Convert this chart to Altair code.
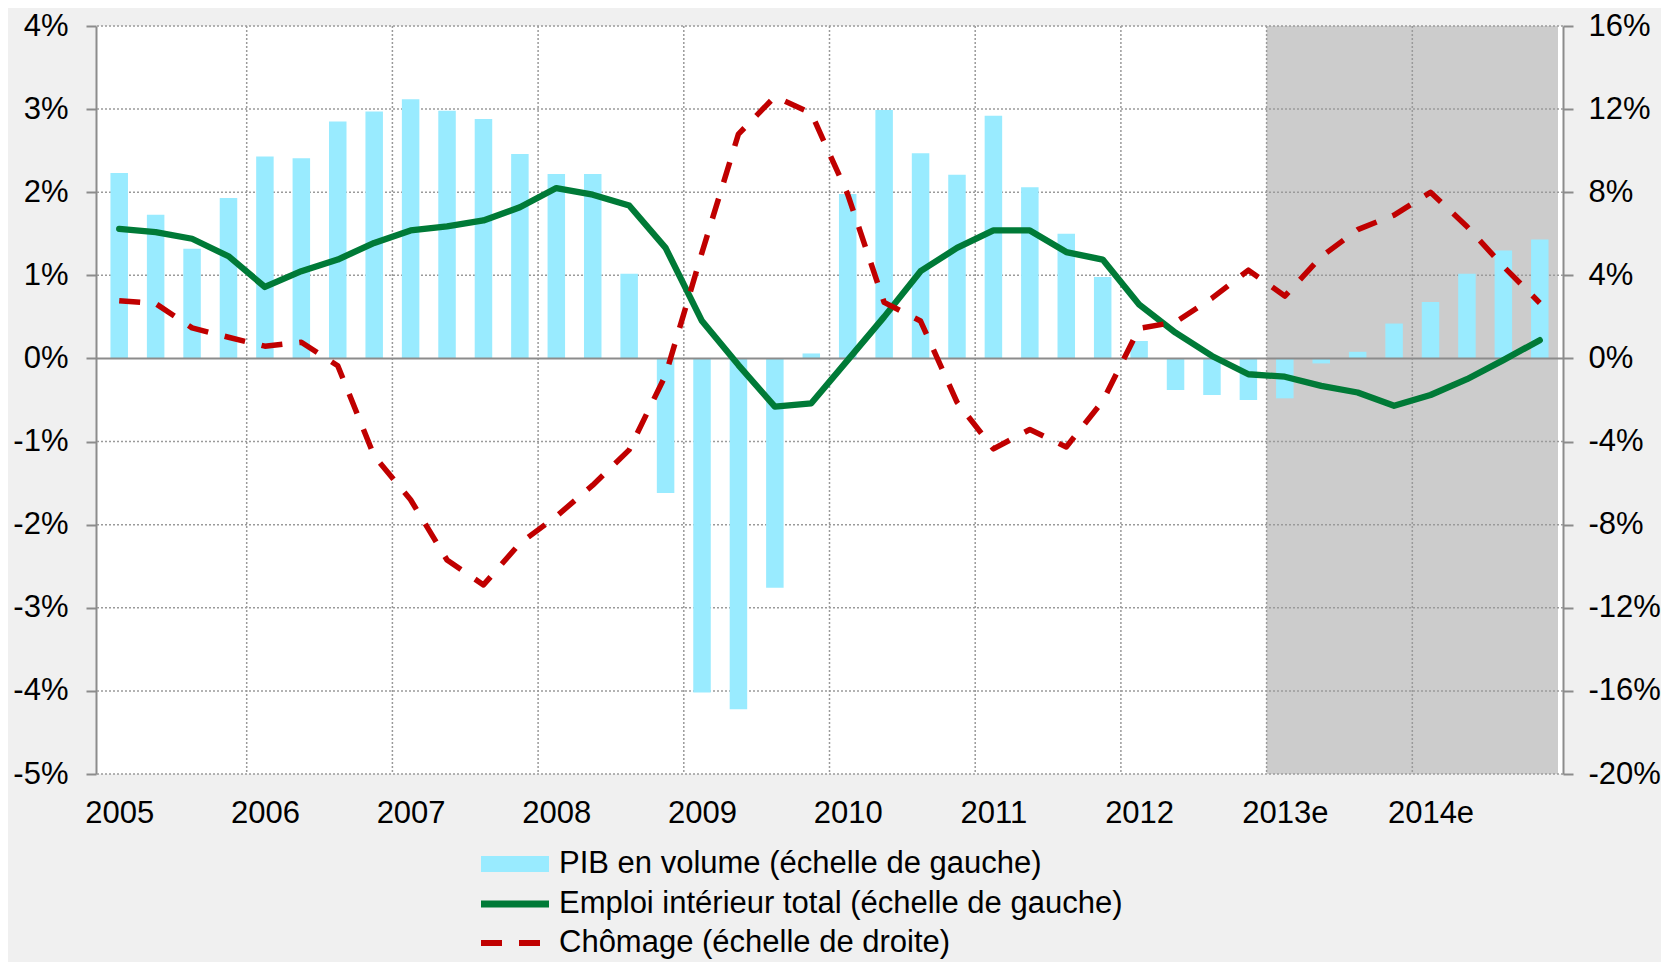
import json
import altair as alt
import pandas as pd

# ---------------- data ----------------
years = ["2005", "2006", "2007", "2008", "2009", "2010", "2011", "2012", "2013e", "2014e"]

# PIB en volume, glissement annuel (%), trimestriel
pib = [2.23, 1.73, 1.32, 1.93,
       2.43, 2.41, 2.85, 2.97,
       3.12, 2.98, 2.88, 2.46,
       2.22, 2.22, 1.02, -1.62,
       -4.02, -4.22, -2.76, 0.06,
       1.98, 2.99, 2.47, 2.21,
       2.92, 2.06, 1.50, 0.98,
       0.21, -0.38, -0.44, -0.50,
       -0.48, -0.06, 0.08, 0.42,
       0.68, 1.02, 1.30, 1.43]

# Emploi intérieur total (%)
emp = [1.56, 1.52, 1.44, 1.23,
       0.86, 1.05, 1.19, 1.39,
       1.54, 1.59, 1.66, 1.82,
       2.05, 1.97, 1.84, 1.33,
       0.45, -0.08, -0.58, -0.54,
       -0.02, 0.50, 1.05, 1.33,
       1.54, 1.54, 1.28, 1.19,
       0.65, 0.31, 0.03, -0.19,
       -0.22, -0.33, -0.41, -0.57,
       -0.44, -0.25, -0.02, 0.22]

# Chômage (%), échelle de droite
cho = [2.78, 2.64, 1.47, 1.02,
       0.59, 0.78, -0.35, -4.7,
       -6.8, -9.7, -10.9, -8.9,
       -7.6, -6.1, -4.4, -0.8,
       5.1, 10.8, 12.6, 11.8,
       7.9, 2.7, 1.8, -2.1,
       -4.35, -3.42, -4.26, -2.06,
       1.45, 1.75, 2.9, 4.25,
       3.0, 4.9, 6.2, 6.9,
       8.0, 6.35, 4.43, 2.67]

left_ticks = [-5, -4, -3, -2, -1, 0, 1, 2, 3, 4]
right_ticks = [-20, -16, -12, -8, -4, 0, 4, 8, 12, 16]

series = ["PIB en volume (échelle de gauche)",
          "Emploi intérieur total (échelle de gauche)",
          "Chômage (échelle de droite)"]

# ---------------- styles ----------------
FONT = "Liberation Sans"
CYAN = "#99EBFF"
GREEN = "#007A37"
RED = "#C00000"
GRID = "#9A9A9A"
AXIS = "#8C8C8C"
SHADE = "#CCCCCC"
BG = "#F0F0F0"
FS = 31
DASH = [21, 17]

W, H = 1467, 748

nq = 4 * len(years)
df = pd.DataFrame({"q": list(range(nq)), "pib": pib, "emp": emp, "cho": cho})
fc_start = 4 * next(i for i, y in enumerate(years) if y.endswith("e"))
shade_df = pd.DataFrame({"start": [fc_start], "end": [nq]})
vgrid_df = pd.DataFrame({"b": [4 * i for i in range(1, len(years))]})
hgrid_df = pd.DataFrame({"v": [v for v in left_ticks if v != 0]})
zero_df = pd.DataFrame({"v": [0]})

xscale = alt.Scale(domain=[0, nq], nice=False, zero=False)
xaxis = alt.Axis(values=[4 * i + 0.5 for i in range(len(years))],
                 labelExpr=f"{json.dumps(years)}[floor(datum.value/4)]",
                 grid=False, ticks=False, tickSize=0, domain=False,
                 labelPadding=24, labelFontSize=FS, labelFont=FONT,
                 labelColor="black", title=None, labelFlush=False,
                 labelOverlap=False)

ylscale = alt.Scale(domain=[left_ticks[0], left_ticks[-1]], nice=False, zero=False)
ylaxis = alt.Axis(values=left_ticks, labelExpr="datum.value + '%'", grid=False,
                  orient="left", tickSize=10, tickWidth=2, tickColor=AXIS,
                  domainColor=AXIS, domainWidth=2, labelPadding=18,
                  labelFontSize=FS, labelFont=FONT, labelColor="black",
                  title=None, labelFlush=False, labelOverlap=False)

yrscale = alt.Scale(domain=[right_ticks[0], right_ticks[-1]], nice=False, zero=False)
yraxis = alt.Axis(values=right_ticks, labelExpr="datum.value + '%'", grid=False,
                  orient="right", tickSize=10, tickWidth=2, tickColor=AXIS,
                  domainColor=AXIS, domainWidth=2, labelPadding=15,
                  labelFontSize=FS, labelFont=FONT, labelColor="black",
                  title=None, labelFlush=False, labelOverlap=False)


def leg(lx, ly, lo, **kw):
    return alt.Legend(orient="none", legendX=lx, legendY=ly,
                      title=None, labelFont=FONT, labelFontSize=FS,
                      labelColor="black", labelLimit=2000, labelOffset=lo,
                      symbolSize=4624, padding=0, symbolOpacity=1, **kw)


X = lambda f: alt.X(f, scale=xscale, axis=xaxis)
YL = lambda f: alt.Y(f, scale=ylscale, axis=ylaxis)

base = alt.Chart(df).transform_calculate(t="datum.q + 0.5")

shade = alt.Chart(shade_df).mark_rect(color=SHADE).encode(
    x=X("start:Q"), x2="end:Q")

vgrid = alt.Chart(vgrid_df).mark_rule(color=GRID, strokeDash=[2, 2], strokeWidth=1.5).encode(
    x=X("b:Q"))

hgrid = alt.Chart(hgrid_df).mark_rule(color=GRID, strokeDash=[2, 2], strokeWidth=1.5).encode(
    y=YL("v:Q"))

bars = base.transform_calculate(s=json.dumps(series[0])).mark_bar(size=17.5).encode(
    x=X("t:Q"), y=YL("pib:Q"),
    fill=alt.Fill("s:N", scale=alt.Scale(domain=[series[0]], range=[CYAN]),
                  legend=leg(385, 804, 10, symbolType="M-1,-0.235H1V0.235H-1Z",
                             symbolStrokeWidth=0)))

zero = alt.Chart(zero_df).mark_rule(color=AXIS, strokeWidth=2).encode(y=YL("v:Q"))

green = base.transform_calculate(s=json.dumps(series[1])).mark_line(
    strokeWidth=6.3, strokeJoin="round", strokeCap="round").encode(
    x=X("t:Q"), y=YL("emp:Q"),
    stroke=alt.Stroke("s:N", scale=alt.Scale(domain=[series[1]], range=[GREEN]),
                      legend=leg(381.5, 840.5, 6.5, symbolType="stroke",
                                 symbolStrokeWidth=7)))

red = base.transform_calculate(s=json.dumps(series[2])).mark_line(
    color=RED, strokeWidth=5.5, strokeJoin="round").encode(
    x=X("t:Q"), y=alt.Y("cho:Q", scale=yrscale, axis=yraxis),
    strokeDash=alt.StrokeDash("s:N",
                              scale=alt.Scale(domain=[series[2]], range=[DASH]),
                              legend=leg(382, 880, 7, symbolType="stroke",
                                         symbolStrokeWidth=6, symbolStrokeColor=RED)))

inner = alt.layer(shade, vgrid, hgrid, bars, zero, green)

chart = alt.layer(inner, red).resolve_scale(y="independent").properties(
    width=W, height=H,
    padding={"left": 88, "top": 18, "right": 98, "bottom": 188},
    autosize=alt.AutoSizeParams(type="none"),
    background=BG,
).configure_view(fill="white", stroke=None)

chart.save("out.html", embed_options={"renderer": "svg", "actions": False})
